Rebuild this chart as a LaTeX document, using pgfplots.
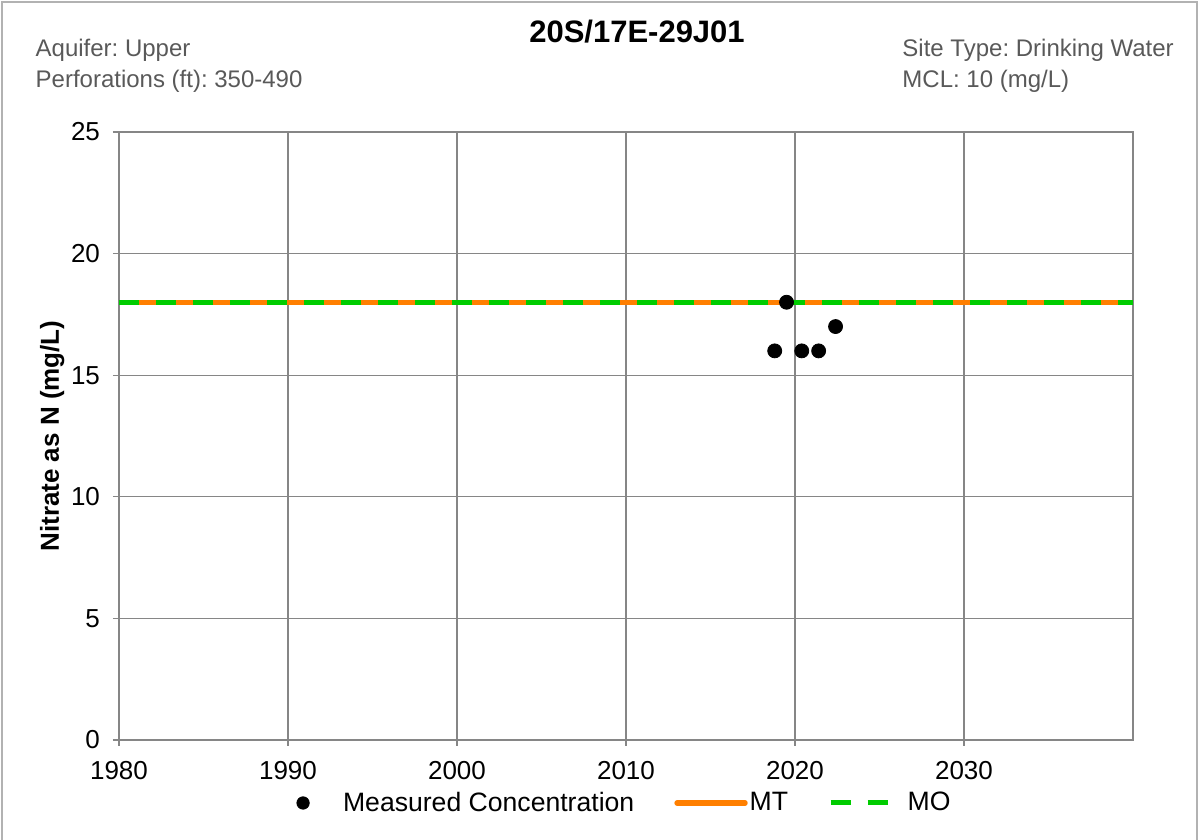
\documentclass[border=0pt]{standalone}
\usepackage{fontspec}
\setmainfont{Liberation Sans}
\usepackage{pgfplots}
\pgfplotsset{compat=1.18}
\definecolor{mtorange}{RGB}{255,127,0}
\definecolor{mogreen}{RGB}{0,204,0}
\definecolor{gridgray}{RGB}{134,134,134}
\definecolor{headgray}{RGB}{89,89,89}
\pgfplotsset{
  legline/.style={legend image code/.code={\draw[##1, line cap=round] (1pt,0pt) -- (35pt,0pt);}},
  legdash/.style={legend image code/.code={\draw[##1] (0pt,0pt) -- (28.5pt,0pt);
    \path[draw=none, fill=none] (0pt,0pt) rectangle (37.5pt,0.1pt);}},
  legdot/.style={legend image code/.code={\fill[black] (0pt,0pt) circle (3.1pt);
    \path[draw=none, fill=none] (0pt,0pt) rectangle (19pt,0.1pt);}},
}
\frenchspacing

\begin{document}
\begin{tikzpicture}
\useasboundingbox (0,0) rectangle (599.5pt,420pt);
% outer chart border
\draw[gray!60, line width=0.8pt] (1pt,0) -- (1pt,419pt) -- (598.5pt,419pt) -- (598.5pt,0);

% title and header notes
\node[font=\fontsize{15.5}{18}\selectfont\bfseries] at (318.5pt,404pt) {20S/17E-29J01};
\node[anchor=west, text=headgray, font=\fontsize{12}{14}\selectfont] at (14.3pt,395pt) {Aquifer: Upper};
\node[anchor=west, text=headgray, font=\fontsize{12}{14}\selectfont] at (14.3pt,379.5pt) {Perforations (ft): 350-490};
\node[anchor=west, text=headgray, font=\fontsize{12}{14}\selectfont] at (447.7pt,395pt) {Site Type: Drinking Water};
\node[anchor=west, text=headgray, font=\fontsize{12}{14}\selectfont] at (447.7pt,379.5pt) {MCL: 10 (mg/L)};

\begin{axis}[
  at={(59.5pt,50pt)}, anchor=south west,
  width=507pt, height=304pt, scale only axis,
  xmin=1980, xmax=2040, ymin=0, ymax=25,
  xtick={1980,1990,2000,2010,2020,2030},
  ytick={0,5,10,15,20,25},
  grid=major, grid style={gridgray, line width=0.6pt},
  axis line style={gridgray, line width=0.8pt},
  tick style={gridgray, line width=0.6pt},
  tick align=outside, major tick length=3pt,
  xtick pos=bottom, ytick pos=left,
  /pgf/number format/assume math mode=true,
  /pgf/number format/1000 sep={},
  ticklabel style={font=\fontsize{13}{15}\selectfont},
  xticklabel style={yshift=-4pt},
  yticklabel style={xshift=-3pt},
  ylabel={\bfseries Nitrate as N (mg/L)},
  ylabel style={font=\fontsize{13}{15}\selectfont},
  ylabel shift=-3.5pt,
  legend columns=3,
  legend style={at={(0.4985,-0.1036)}, anchor=center, draw=none, fill=none,
    font=\fontsize{13.3}{15}\selectfont,
    nodes={inner sep=1pt},
    /tikz/every even column/.append style={column sep=19pt}},
  clip=false,
]
\addlegendimage{only marks, mark=*, black, legdot}
\addlegendentry{Measured Concentration}

\addplot[mtorange, line width=2.7pt, legline]
  coordinates {(1980,18) (2040,18)};
\addlegendentry{MT}

\addplot[mogreen, line width=2.5pt, dash pattern=on 10pt off 8.5pt, legdash]
  coordinates {(1980,18) (2040,18)};
\addlegendentry{MO}

\addplot[only marks, mark=*, mark size=3.5pt, black, forget plot]
  coordinates {
    (2018.8,16) (2019.5,18) (2020.4,16) (2021.4,16) (2022.4,17)
  };
\end{axis}
\end{tikzpicture}
\end{document}
